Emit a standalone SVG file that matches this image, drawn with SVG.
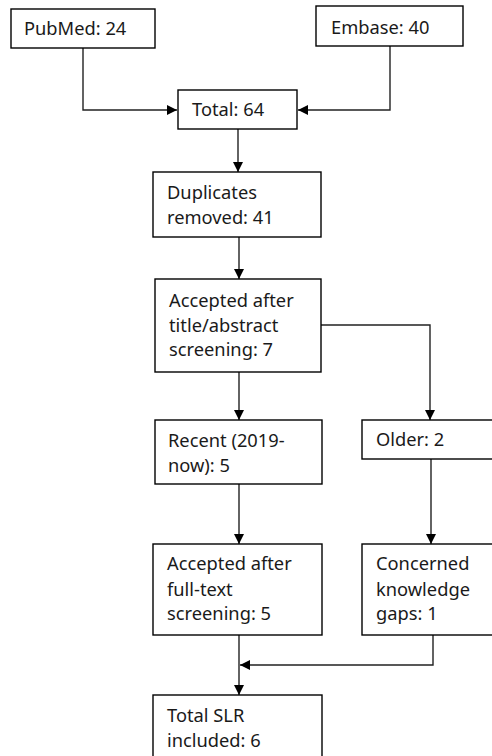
<svg xmlns="http://www.w3.org/2000/svg" width="492" height="756" viewBox="0 0 492 756">
  <style>
    .box { fill: #fff; stroke: #000; stroke-width: 1.4; }
    .lbl { font-family: "Noto Sans", "Open Sans", sans-serif; font-size: 18.3px; fill: #1a1a1a; }
    .edge { fill: none; stroke: #222; stroke-width: 1.4; }
  </style>
  <defs>
    <marker id="arrow" viewBox="0 0 10 10" refX="10" refY="5" markerWidth="10" markerHeight="10" markerUnits="userSpaceOnUse" orient="auto">
      <path d="M0,0 L10,5 L0,10 Z" fill="#000"/>
    </marker>
  </defs>
  <rect width="492" height="756" fill="#fff"/>

  <g id="connectors">
    <path class="edge" d="M83,48 V110 H177" marker-end="url(#arrow)"/>
    <path class="edge" d="M390,46 V110 H298" marker-end="url(#arrow)"/>
    <path class="edge" d="M238,129 V172" marker-end="url(#arrow)"/>
    <path class="edge" d="M239,237 V279" marker-end="url(#arrow)"/>
    <path class="edge" d="M321,325 H430 V420" marker-end="url(#arrow)"/>
    <path class="edge" d="M239,372 V420" marker-end="url(#arrow)"/>
    <path class="edge" d="M239,484 V544" marker-end="url(#arrow)"/>
    <path class="edge" d="M431,459 V544" marker-end="url(#arrow)"/>
    <path class="edge" d="M433,635 V665 H240" marker-end="url(#arrow)"/>
    <path class="edge" d="M239,635 V695" marker-end="url(#arrow)"/>
  </g>

  <g id="pubmed">
    <rect class="box" x="11" y="9" width="144" height="39"/>
    <text class="lbl" x="24" y="35">PubMed: 24</text>
  </g>
  <g id="embase">
    <rect class="box" x="316" y="6" width="147" height="40"/>
    <text class="lbl" x="331" y="34">Embase: 40</text>
  </g>
  <g id="total">
    <rect class="box" x="178" y="90" width="119" height="39"/>
    <text class="lbl" x="192" y="116">Total: 64</text>
  </g>
  <g id="duplicates">
    <rect class="box" x="153" y="172" width="168" height="65"/>
    <text class="lbl" x="167" y="199">Duplicates</text>
    <text class="lbl" x="167" y="224">removed: 41</text>
  </g>
  <g id="title-abstract">
    <rect class="box" x="155" y="279" width="166" height="93"/>
    <text class="lbl" x="169" y="307">Accepted after</text>
    <text class="lbl" x="169" y="332">title/abstract</text>
    <text class="lbl" x="169" y="356">screening: 7</text>
  </g>
  <g id="recent">
    <rect class="box" x="155" y="420" width="167" height="64"/>
    <text class="lbl" x="168" y="447">Recent (2019-</text>
    <text class="lbl" x="168" y="472">now): 5</text>
  </g>
  <g id="older">
    <rect class="box" x="362" y="420" width="140" height="39"/>
    <text class="lbl" x="376" y="446">Older: 2</text>
  </g>
  <g id="full-text">
    <rect class="box" x="153" y="544" width="169" height="91"/>
    <text class="lbl" x="167" y="570">Accepted after</text>
    <text class="lbl" x="167" y="596">full-text</text>
    <text class="lbl" x="167" y="620">screening: 5</text>
  </g>
  <g id="knowledge-gaps">
    <rect class="box" x="362" y="544" width="140" height="91"/>
    <text class="lbl" x="376" y="570">Concerned</text>
    <text class="lbl" x="376" y="596">knowledge</text>
    <text class="lbl" x="376" y="620">gaps: 1</text>
  </g>
  <g id="total-slr">
    <rect class="box" x="153" y="695" width="169" height="70"/>
    <text class="lbl" x="167" y="722">Total SLR</text>
    <text class="lbl" x="167" y="747">included: 6</text>
  </g>
</svg>
